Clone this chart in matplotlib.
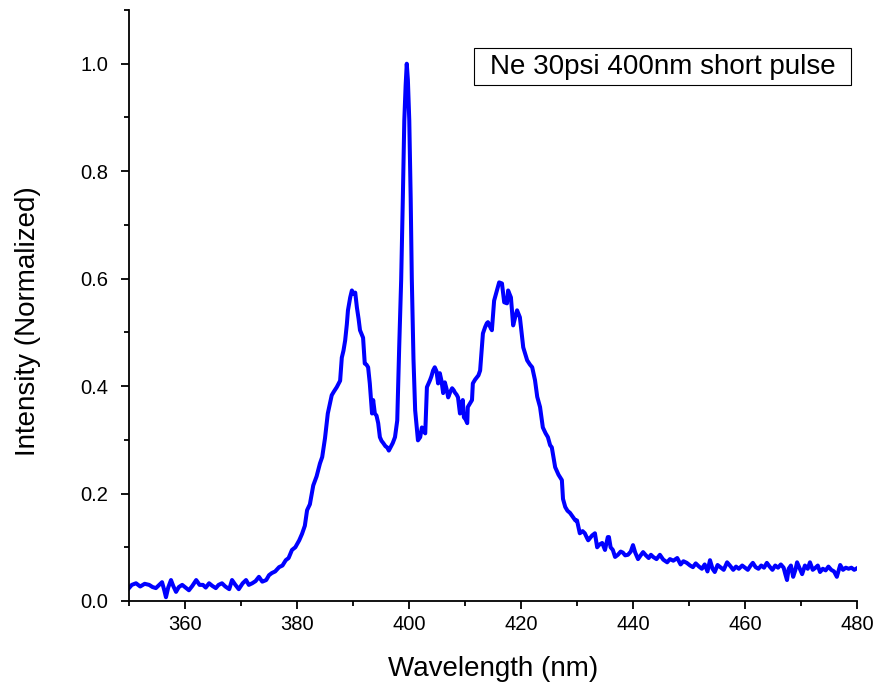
import matplotlib
matplotlib.use("Agg")
import matplotlib.pyplot as plt
from matplotlib.patches import Rectangle
from matplotlib.ticker import MultipleLocator

plt.rcParams['font.family'] = ['Liberation Sans', 'DejaVu Sans']

wavelength = [
    350.0, 350.5, 351.25, 352.0, 352.8, 353.6, 354.2, 354.8, 355.4, 355.9,
    356.3, 356.6, 357.0, 357.5, 357.9, 358.4, 358.9, 359.5, 360.1, 360.7,
    361.3, 362.0, 362.6, 363.2, 363.7, 364.3, 364.9, 365.5, 366.0, 366.6,
    367.2, 367.9, 368.4, 369.0, 369.6, 370.3, 370.9, 371.4, 372.0, 372.6,
    373.2, 373.8, 374.5, 375.0, 375.5, 376.1, 376.8, 377.4, 378.0, 378.5,
    379.1, 379.7, 380.4, 380.9, 381.4, 381.8, 382.3, 382.9, 383.5, 384.1,
    384.5, 385.0, 385.5, 386.2, 386.6, 387.1, 387.7, 388.0, 388.3, 388.6,
    388.9, 389.1, 389.5, 389.8, 390.1, 390.4, 390.7, 391.0, 391.25, 391.8,
    392.1, 392.4, 392.7, 393.0, 393.4, 393.6, 393.9, 394.2, 394.5, 394.8,
    395.1, 395.4, 395.8, 396.1, 396.4, 396.6, 396.9, 397.1, 397.5, 397.9,
    398.25, 398.6, 398.9, 399.16, 399.4, 399.6, 399.8, 400.05, 400.3, 400.5,
    400.8, 401.1, 401.6, 402.0, 402.3, 402.6, 402.9, 403.2, 403.5, 403.75,
    404.0, 404.3, 404.6, 404.9, 405.2, 405.5, 405.8, 406.1, 406.4, 406.7,
    407.0, 407.4, 407.7, 408.0, 408.2, 408.5, 408.75, 409.1, 409.4, 409.6,
    409.8, 410.1, 410.4, 410.5, 410.9, 411.25, 411.4, 411.8, 412.1, 412.4,
    412.7, 413.0, 413.2, 413.6, 413.9, 414.1, 414.5, 414.8, 415.2, 415.5,
    415.7, 416.1, 416.6, 417.0, 417.5, 417.7, 418.2, 418.6, 419.0, 419.3,
    419.8, 420.1, 420.4, 420.8, 421.1, 421.6, 422.0, 422.5, 422.9, 423.4,
    423.9, 424.4, 424.8, 425.2, 425.5, 426.1, 426.7, 427.3, 427.5, 427.9,
    428.3, 428.75, 429.3, 429.7, 430.0, 430.5, 431.0, 431.4, 431.8, 432.0,
    432.4, 432.7, 433.2, 433.6, 434.0, 434.5, 435.0, 435.5, 435.7, 436.0,
    436.4, 436.8, 437.3, 437.8, 438.2, 438.6, 439.1, 439.6, 440.0, 440.4,
    440.9, 441.3, 441.8, 442.3, 442.8, 443.2, 443.6, 444.2, 444.8, 445.4,
    446.1, 446.6, 447.2, 447.9, 448.5, 449.0, 449.6, 450.2, 450.7, 451.2,
    451.8, 452.3, 452.8, 453.3, 453.75, 454.2, 454.6, 455.1, 455.6, 456.2,
    456.8, 457.3, 457.9, 458.4, 458.9, 459.5, 460.0, 460.5, 461.0, 461.4,
    461.9, 462.4, 462.9, 463.4, 463.9, 464.4, 464.9, 465.4, 465.9, 466.4,
    466.9, 467.2, 467.5, 467.8, 468.2, 468.6, 469.0, 469.3, 469.8, 470.2,
    470.7, 471.2, 471.6, 472.1, 472.6, 473.0, 473.4, 473.9, 474.4, 474.9,
    475.4, 475.9, 476.4, 477.0, 477.5, 478.0, 478.5, 479.0, 479.5, 480.0,
]

intensity = [
    0.024, 0.030, 0.033, 0.027, 0.032, 0.030, 0.026, 0.024, 0.030, 0.035,
    0.020, 0.007, 0.025, 0.039, 0.028, 0.017, 0.026, 0.030, 0.025, 0.020,
    0.028, 0.039, 0.030, 0.030, 0.025, 0.033, 0.028, 0.024, 0.030, 0.033,
    0.027, 0.022, 0.039, 0.030, 0.022, 0.033, 0.039, 0.030, 0.033, 0.037,
    0.045, 0.036, 0.039, 0.048, 0.052, 0.055, 0.063, 0.066, 0.076, 0.080,
    0.095, 0.100, 0.113, 0.125, 0.140, 0.169, 0.180, 0.215, 0.232, 0.256,
    0.268, 0.303, 0.349, 0.383, 0.390, 0.398, 0.410, 0.453, 0.466, 0.485,
    0.515, 0.541, 0.565, 0.578, 0.572, 0.574, 0.546, 0.525, 0.504, 0.490,
    0.442, 0.440, 0.435, 0.405, 0.349, 0.374, 0.349, 0.345, 0.331, 0.305,
    0.298, 0.294, 0.288, 0.286, 0.280, 0.284, 0.290, 0.294, 0.305, 0.336,
    0.473, 0.597, 0.750, 0.894, 0.960, 1.000, 0.970, 0.894, 0.750, 0.600,
    0.450, 0.355, 0.299, 0.305, 0.323, 0.318, 0.312, 0.398, 0.405, 0.411,
    0.418, 0.429, 0.435, 0.428, 0.405, 0.424, 0.410, 0.387, 0.407, 0.395,
    0.379, 0.390, 0.396, 0.392, 0.388, 0.384, 0.379, 0.349, 0.365, 0.374,
    0.342, 0.338, 0.331, 0.361, 0.368, 0.374, 0.405, 0.412, 0.416, 0.420,
    0.429, 0.470, 0.498, 0.510, 0.517, 0.519, 0.510, 0.504, 0.559, 0.570,
    0.578, 0.593, 0.591, 0.556, 0.554, 0.578, 0.565, 0.513, 0.530, 0.541,
    0.528, 0.500, 0.472, 0.458, 0.448, 0.440, 0.435, 0.411, 0.380, 0.361,
    0.323, 0.312, 0.305, 0.290, 0.286, 0.249, 0.235, 0.225, 0.190, 0.175,
    0.168, 0.164, 0.156, 0.150, 0.150, 0.126, 0.130, 0.126, 0.117, 0.113,
    0.118, 0.122, 0.126, 0.100, 0.105, 0.108, 0.095, 0.119, 0.119, 0.100,
    0.095, 0.082, 0.086, 0.092, 0.090, 0.085, 0.086, 0.092, 0.104, 0.090,
    0.078, 0.084, 0.091, 0.085, 0.080, 0.086, 0.082, 0.078, 0.086, 0.077,
    0.072, 0.078, 0.075, 0.080, 0.068, 0.074, 0.071, 0.066, 0.063, 0.070,
    0.064, 0.060, 0.068, 0.055, 0.076, 0.060, 0.054, 0.067, 0.063, 0.058,
    0.072, 0.066, 0.058, 0.064, 0.060, 0.066, 0.062, 0.058, 0.066, 0.071,
    0.063, 0.060, 0.066, 0.062, 0.071, 0.064, 0.058, 0.066, 0.062, 0.068,
    0.062, 0.050, 0.039, 0.060, 0.066, 0.045, 0.058, 0.072, 0.060, 0.050,
    0.066, 0.060, 0.072, 0.058, 0.062, 0.066, 0.054, 0.060, 0.057, 0.064,
    0.058, 0.055, 0.045, 0.067, 0.058, 0.062, 0.060, 0.062, 0.058, 0.061,
]

legend_text = "Ne 30psi 400nm short pulse"
x_label = "Wavelength (nm)"
y_label = "Intensity (Normalized)"

fig = plt.figure(figsize=(8.79, 6.91), dpi=100)
ax = fig.add_axes([129/879, 1 - 601/691, 728/879, 591/691])

ax.plot(wavelength, intensity, color='#0000FF', lw=2.9, solid_joinstyle='round')

ax.set_xlim(350, 480)
ax.set_ylim(0, 1.1)
ax.xaxis.set_major_locator(MultipleLocator(20))
ax.xaxis.set_minor_locator(MultipleLocator(10))
ax.yaxis.set_major_locator(MultipleLocator(0.2))
ax.yaxis.set_minor_locator(MultipleLocator(0.1))
ax.yaxis.set_major_formatter(matplotlib.ticker.FormatStrFormatter('%.1f'))

for s in ['top', 'right']:
    ax.spines[s].set_visible(False)
for s in ['left', 'bottom']:
    ax.spines[s].set_linewidth(1.3)

ax.tick_params(which='major', direction='out', length=6, width=1.3, labelsize=14.5)
ax.tick_params(axis='x', which='major', pad=4)
ax.tick_params(axis='y', which='major', pad=9)
ax.tick_params(which='minor', direction='out', length=3.5, width=1.3)

ax.set_xlabel(x_label, fontsize=20, labelpad=16)
ax.set_ylabel(y_label, fontsize=20)
ax.yaxis.set_label_coords(-0.121, (601 - 321) / 591)

x0, x1 = (474 - 129) / 728, (851 - 129) / 728
y0, y1 = (601 - 85) / 591, (601 - 48) / 591
ax.add_patch(Rectangle((x0, y0), x1 - x0, y1 - y0, transform=ax.transAxes,
                       fill=False, edgecolor='black', lw=0.8, clip_on=False))
ax.text(x0 + 16 / 728, (y0 + y1) / 2, legend_text, transform=ax.transAxes,
        ha='left', va='center', fontsize=20)

fig.savefig("out.png", dpi=100)
